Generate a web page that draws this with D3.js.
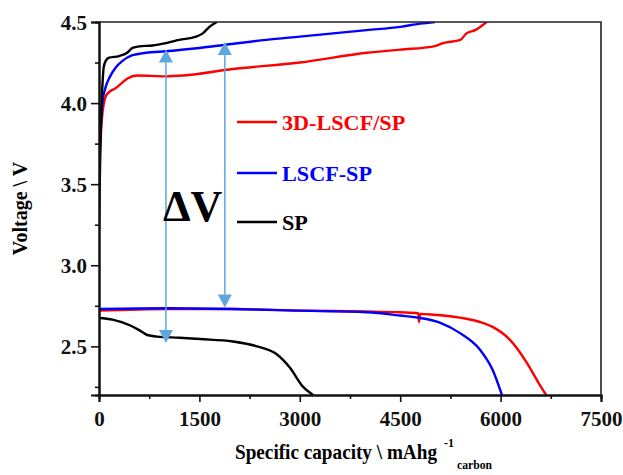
<!DOCTYPE html>
<html>
<head>
<meta charset="utf-8">
<script src="https://cdn.jsdelivr.net/npm/d3@7"></script>
<style>
  html, body { margin: 0; padding: 0; background: #fff; }
  svg text { font-family: "Liberation Serif", "Times New Roman", serif; font-weight: bold; }
</style>
</head>
<body>
<svg id="chart" width="623" height="475"></svg>
<script>
/* ── Data: [capacity mAh/g, voltage V] ───────────────────── */
const sp3dCharge = [[0,3.6],[20,3.75],[45,3.91],[100,4.04],[160,4.07],[240,4.09],[330,4.12],
  [420,4.15],[570,4.17],[1000,4.165],[1260,4.17],[2000,4.21],[3000,4.25],[4000,4.31],
  [4500,4.33],[5000,4.35],[5140,4.37],[5400,4.39],[5490,4.43],[5620,4.45],[5790,4.5]];
const sp3dDischarge = [[0,2.72],[1000,2.73],[2000,2.73],[3000,2.72],[4000,2.715],[4500,2.71],
  [4770,2.705],[4780,2.65],[4800,2.70],[5000,2.695],[5490,2.67],[5700,2.65],[5880,2.62],
  [6140,2.54],[6390,2.4],[6560,2.28],[6680,2.2]];

const lscfCharge = [[0,3.6],[20,3.8],[50,4.0],[100,4.1],[160,4.16],[250,4.22],[350,4.26],
  [500,4.295],[700,4.31],[1000,4.32],[1500,4.34],[1900,4.36],[2500,4.39],[3000,4.41],
  [4000,4.45],[4500,4.47],[4800,4.49],[5020,4.5]];
const lscfDischarge = [[0,2.73],[1000,2.735],[2000,2.73],[3000,2.72],[4000,2.71],[4500,2.69],
  [4800,2.675],[5100,2.645],[5400,2.58],[5690,2.48],[5880,2.355],[6020,2.2]];

const spCharge = [[0,3.22],[15,3.6],[30,3.9],[50,4.1],[70,4.22],[100,4.26],[150,4.28],
  [300,4.29],[420,4.31],[500,4.34],[600,4.35],[800,4.355],[1000,4.37],[1200,4.39],
  [1450,4.41],[1550,4.43],[1650,4.47],[1760,4.5]];
const spDischarge = [[0,2.675],[200,2.665],[460,2.63],[600,2.6],[720,2.57],[870,2.56],
  [1200,2.553],[1510,2.545],[2000,2.53],[2360,2.5],[2660,2.45],[2850,2.37],[3050,2.25],[3200,2.2]];

const seriesNames  = ["3D-LSCF/SP", "LSCF-SP", "SP"];
const seriesColors = ["#ff0000", "#0000ff", "#000000"];

/* ΔV arrows: [capacity, top voltage, bottom voltage] */
const arrows = [[1000, 4.33, 2.52], [1880, 4.377, 2.74]];

const xTicks      = [0, 1500, 3000, 4500, 6000, 7500];
const xMinorTicks = [750, 2250, 3750, 5250, 6750];
const yTicks      = [2.5, 3.0, 3.5, 4.0, 4.5];
const yMinorTicks = [2.25, 2.75, 3.25, 3.75, 4.25];

/* ── Layout ──────────────────────────────────────────────── */
const M = { left: 99, top: 22, right: 601, bottom: 395 };
const svg = d3.select("#chart");

const x = d3.scaleLinear().domain([0, 7500]).range([M.left, M.right]);
const y = d3.scaleLinear().domain([2.2, 4.5]).range([M.bottom, M.top]);

/* clip curves to plot area */
svg.append("defs").append("clipPath").attr("id", "plot-clip")
  .append("rect").attr("x", M.left).attr("y", M.top)
  .attr("width", M.right - M.left).attr("height", M.bottom - M.top);

const line = d3.line().x(d => x(d[0])).y(d => y(d[1])).curve(d3.curveMonotoneX);

const curves = [
  [sp3dCharge, sp3dDischarge],
  [lscfCharge, lscfDischarge],
  [spCharge, spDischarge],
];

const curvesG = svg.append("g").attr("clip-path", "url(#plot-clip)");
curves.forEach((pair, i) => {
  pair.forEach(data => {
    curvesG.append("path")
      .datum(data)
      .attr("fill", "none")
      .attr("stroke", seriesColors[i])
      .attr("stroke-width", 2.4)
      .attr("stroke-linejoin", "round")
      .attr("d", line);
  });
});

/* ── ΔV arrows ───────────────────────────────────────────── */
const arrowColor = "#5ea6df";
const arrowsG = svg.append("g");
arrows.forEach(([c, vTop, vBot]) => {
  const ax = x(c), yt = y(vTop), yb = y(vBot);
  const h = 13, w = 7;
  arrowsG.append("line")
    .attr("x1", ax).attr("x2", ax).attr("y1", yt + h).attr("y2", yb - h)
    .attr("stroke", arrowColor).attr("stroke-width", 1.5);
  arrowsG.append("path")
    .attr("d", `M${ax},${yt} L${ax - w},${yt + h} L${ax + w},${yt + h} Z`)
    .attr("fill", arrowColor);
  arrowsG.append("path")
    .attr("d", `M${ax},${yb} L${ax - w},${yb - h} L${ax + w},${yb - h} Z`)
    .attr("fill", arrowColor);
});

svg.append("text")
  .attr("x", 163).attr("y", 221)
  .attr("font-size", 44)
  .text("ΔV");

/* ── Axes ────────────────────────────────────────────────── */
const fontTick = 21;

const xAxis = svg.append("g").attr("transform", `translate(0,${M.bottom})`)
  .call(d3.axisBottom(x).tickValues(xTicks).tickSize(7).tickPadding(6).tickFormat(d3.format("d")));
const xMinor = svg.append("g").attr("transform", `translate(0,${M.bottom})`)
  .call(d3.axisBottom(x).tickValues(xMinorTicks).tickSize(4).tickFormat(""));
const yAxis = svg.append("g").attr("transform", `translate(${M.left},0)`)
  .call(d3.axisLeft(y).tickValues(yTicks).tickSize(8).tickPadding(4).tickFormat(d3.format(".1f")));
const yMinor = svg.append("g").attr("transform", `translate(${M.left},0)`)
  .call(d3.axisLeft(y).tickValues(yMinorTicks).tickSize(4).tickFormat(""));

[xAxis, xMinor, yAxis, yMinor].forEach(g => {
  g.select(".domain").attr("stroke", "#111").attr("stroke-width", 2);
  g.selectAll(".tick line").attr("stroke", "#111").attr("stroke-width", 1.6);
  g.selectAll(".tick text")
    .attr("font-size", fontTick)
    .attr("fill", "#111");
});
yAxis.selectAll(".tick text").attr("dy", "0.36em");
xAxis.selectAll(".tick text").attr("dy", "0.85em");

/* top + right frame */
svg.append("path")
  .attr("d", `M${M.left},${M.top} H${M.right} V${M.bottom}`)
  .attr("fill", "none").attr("stroke", "#222").attr("stroke-width", 1.6);

/* ── Axis titles ─────────────────────────────────────────── */
svg.append("text")
  .attr("transform", `translate(27,${(M.top + M.bottom) / 2}) rotate(-90)`)
  .attr("text-anchor", "middle")
  .attr("font-size", 20)
  .text("Voltage \\ V");

svg.append("text")
  .attr("x", 235).attr("y", 459)
  .attr("font-size", 20)
  .attr("textLength", 202).attr("lengthAdjust", "spacingAndGlyphs")
  .text("Specific capacity \\ mAhg");
svg.append("text")
  .attr("x", 444).attr("y", 447)
  .attr("font-size", 12)
  .text("-1");
svg.append("text")
  .attr("x", 457).attr("y", 469)
  .attr("font-size", 12)
  .attr("textLength", 35).attr("lengthAdjust", "spacingAndGlyphs")
  .text("carbon");

/* ── Legend ──────────────────────────────────────────────── */
const legendY = [122, 173, 222];
const legendG = svg.append("g");
seriesNames.forEach((name, i) => {
  legendG.append("line")
    .attr("x1", 237).attr("x2", 277)
    .attr("y1", legendY[i]).attr("y2", legendY[i])
    .attr("stroke", seriesColors[i]).attr("stroke-width", 2.4);
  legendG.append("text")
    .attr("transform", `translate(282,${legendY[i] + 8}) scale(1.11,1)`)
    .attr("font-size", 20)
    .attr("fill", seriesColors[i])
    .text(name);
});
</script>
</body>
</html>
